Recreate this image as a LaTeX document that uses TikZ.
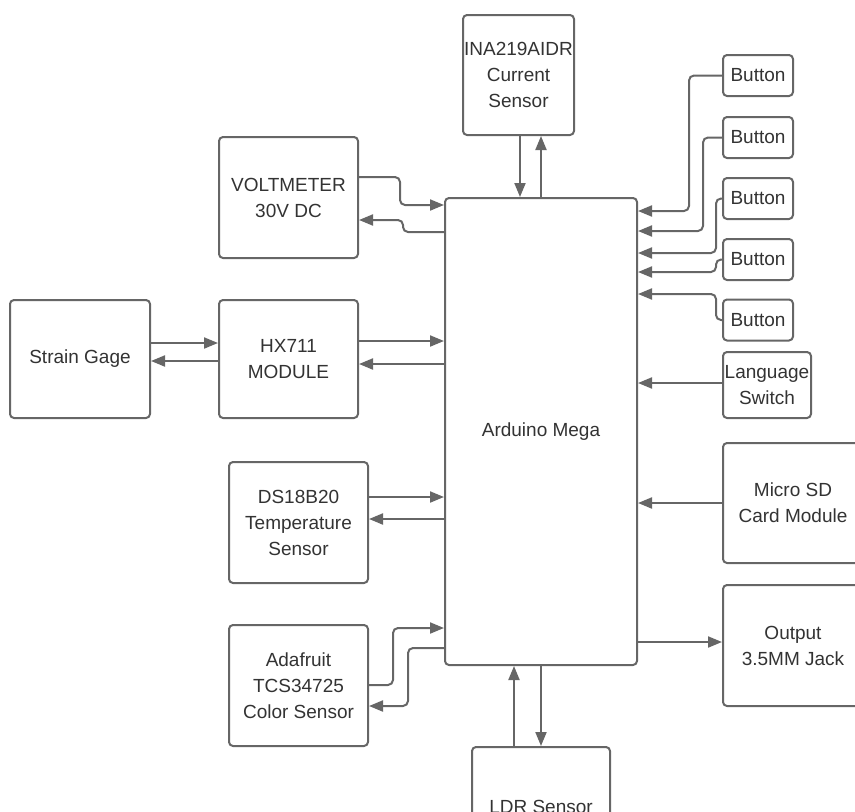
\documentclass[tikz,border=0pt]{standalone}
\usepackage{fontspec}
\setmainfont{Liberation Sans}
\usetikzlibrary{arrows.meta}
\definecolor{linegray}{HTML}{666666}
\definecolor{textgray}{HTML}{333333}
\begin{document}
\begin{tikzpicture}[x=1pt, y=-1pt, >={Triangle[length=14pt,width=11pt]},
    line width=2pt, draw=linegray,
    blk/.style={draw=linegray, fill=white, rounded corners=4pt, align=center,
        inner sep=0pt, text=textgray, font=\fontsize{19}{26}\selectfont},
    wire/.style={draw=linegray, ->, rounded corners=5pt}]
    \useasboundingbox (0,0) rectangle (855,812);
    \clip (0,0) rectangle (855,812);
    % main board
    \node[blk, minimum width=192pt, minimum height=467pt] (ard) at (541,431.5) {Arduino Mega};
    % left side
    \node[blk, minimum width=111pt, minimum height=120pt] (ina) at (518.5,75) {INA219AIDR\\Current\\Sensor};
    \node[blk, minimum width=139pt, minimum height=121pt] (volt) at (288.5,197.5) {VOLTMETER\\30V DC};
    \node[blk, minimum width=140pt, minimum height=118pt] (strain) at (80,359) {Strain Gage};
    \node[blk, minimum width=139pt, minimum height=118pt] (hx) at (288.5,359) {HX711\\MODULE};
    \node[blk, minimum width=139pt, minimum height=121pt] (ds) at (298.5,522.5) {DS18B20\\Temperature\\Sensor};
    \node[blk, minimum width=139pt, minimum height=121pt] (ada) at (298.5,685.5) {Adafruit\\TCS34725\\Color Sensor};
    \node[blk, minimum width=138pt, minimum height=120pt] (ldr) at (541,807) {LDR Sensor};
    % right side
    \foreach \i/\y in {1/75.5, 2/137.5, 3/198.5, 4/259.5, 5/320}
        \node[blk, minimum width=70pt, minimum height=41pt] (b\i) at (758,\y) {Button};
    \node[blk, minimum width=88pt, minimum height=66pt] (lang) at (767,385) {Language\\Switch};
    \node[blk, minimum width=140pt, minimum height=120pt] (sd) at (793,503) {Micro SD\\Card Module};
    \node[blk, minimum width=140pt, minimum height=121pt] (out) at (793,645.5) {Output\\3.5MM Jack};

    \draw[wire] (520,0 |- ina.south) -- (520,0 |- ard.north);
    \draw[wire] (541,0 |- ard.north) -- (541,0 |- ina.south);
    \draw[wire] (volt.east |- 0,177) -| (400,205) -- (ard.west |- 0,205);
    \draw[wire] (ard.west |- 0,232) -| (403,220) -- (volt.east |- 0,220);
    \draw[wire] (strain.east |- 0,343) -- (hx.west |- 0,343);
    \draw[wire] (hx.west |- 0,361) -- (strain.east |- 0,361);
    \draw[wire] (hx.east |- 0,341) -- (ard.west |- 0,341);
    \draw[wire] (ard.west |- 0,364) -- (hx.east |- 0,364);
    \draw[wire] (ds.east |- 0,497) -- (ard.west |- 0,497);
    \draw[wire] (ard.west |- 0,519) -- (ds.east |- 0,519);
    \draw[wire] (ada.east |- 0,685) -| (393,628) -- (ard.west |- 0,628);
    \draw[wire] (ard.west |- 0,648) -| (408,706) -- (ada.east |- 0,706);
    \draw[wire] (514,0 |- ldr.north) -- (514,0 |- ard.south);
    \draw[wire] (541,0 |- ard.south) -- (541,0 |- ldr.north);
    \foreach \i/\x/\y in {1/689/211, 2/703/231, 3/716/253, 4/716/272, 5/716/294}
        \draw[wire] (b\i.west) -| (\x,\y) -- (ard.east |- 0,\y);
    \draw[wire] (lang.west |- 0,383) -- (ard.east |- 0,383);
    \draw[wire] (sd.west) -- (ard.east |- sd.west);
    \draw[wire] (ard.east |- 0,642) -- (out.west |- 0,642);
\end{tikzpicture}
\end{document}
